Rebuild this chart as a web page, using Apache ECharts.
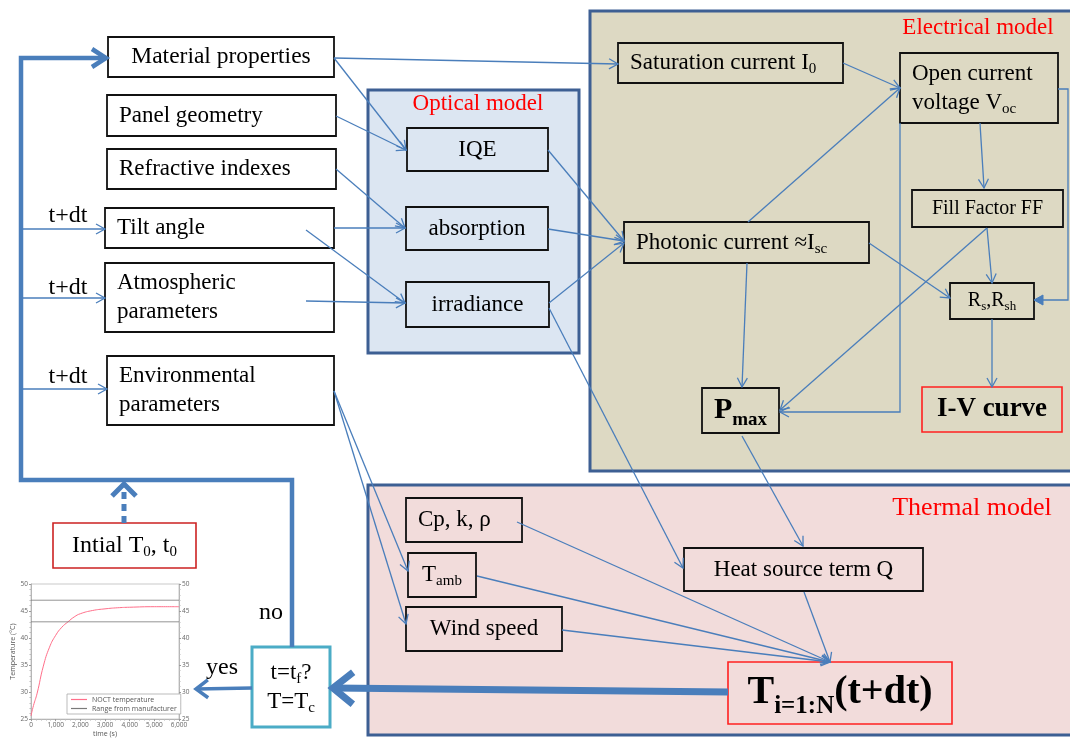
<!DOCTYPE html>
<html><head><meta charset="utf-8">
<script src="https://cdn.jsdelivr.net/npm/echarts@6/dist/echarts.min.js"></script>
<style>html,body{margin:0;padding:0;background:#fff}#c{width:1070px;height:738px}</style>
</head><body><div id="c"></div>
<script>
// ---------------- data ----------------
const panelTitles = ['Electrical model', 'Optical model', 'Thermal model'];
const panelBoxes = [[590, 11, 495, 460], [368, 90, 211, 263], [368, 485, 717, 250]];
const panelTitlePos = [[978, 28], [478, 104], [972, 508]];

const nodeLabels = [
  'Material properties', 'Panel geometry', 'Refractive indexes', 'Tilt angle',
  'Atmospheric\nparameters', 'Environmental\nparameters',
  'IQE', 'absorption', 'irradiance',
  'Saturation current I_{0}', 'Open current\nvoltage V_{oc}', 'Fill Factor FF',
  'Photonic current ≈I_{sc}', 'R_{s},R_{sh}', 'P_{max}', 'I-V curve',
  'Cp, k, ρ', 'T_{amb}', 'Wind speed', 'Heat source term Q',
  'T_{i=1:N}(t+dt)', 'Intial T_{0}, t_{0}', 't=t_{f}?\nT=T_{c}'
];
const nodeBoxes = [
  [108, 37, 226, 40], [107, 95, 229, 41], [107, 149, 229, 40], [105, 208, 229, 40],
  [105, 263, 229, 69], [107, 356, 227, 69],
  [407, 128, 141, 43], [406, 207, 142, 43], [406, 282, 143, 45],
  [618, 43, 225, 40], [900, 53, 158, 70], [912, 190, 151, 37],
  [624, 222, 245, 41], [950, 283, 84, 36], [702, 388, 77, 45], [922, 387, 140, 45],
  [406, 498, 116, 44], [408, 553, 68, 44], [406, 607, 156, 44], [684, 548, 239, 43],
  [728, 662, 224, 62], [53, 523, 143, 45], [252, 647, 78, 80]
];

const freeLabels = ['t+dt', 't+dt', 't+dt', 'no', 'yes'];
const freeLabelPos = [[68, 216], [68, 288], [68, 377], [271, 613], [222, 668]];

const edgePaths = [
  [[334, 58], [618, 64]],
  [[334, 58], [406, 150]],
  [[336, 116], [406, 150]],
  [[336, 169], [405, 228]],
  [[334, 228], [405, 228]],
  [[306, 230], [405, 303]],
  [[306, 301], [405, 303]],
  [[548, 150], [624, 241]],
  [[548, 229], [624, 241]],
  [[549, 303], [624, 243]],
  [[549, 308], [683, 568]],
  [[748, 222], [900, 88]],
  [[843, 63], [900, 88]],
  [[980, 123], [984, 188]],
  [[1058, 89], [1068, 89], [1068, 300], [1034, 300]],
  [[900, 123], [900, 412], [780, 412]],
  [[987, 228], [780, 410]],
  [[987, 228], [992, 283]],
  [[869, 243], [950, 298]],
  [[747, 263], [742, 387]],
  [[992, 319], [992, 387]],
  [[742, 436], [803, 546]],
  [[334, 391], [408, 571]],
  [[334, 391], [406, 624]],
  [[517, 522], [830, 662]],
  [[477, 576], [830, 662]],
  [[562, 630], [830, 662]],
  [[804, 592], [830, 662]],
  [[21, 229], [105, 229]],
  [[21, 298], [105, 298]],
  [[21, 389], [107, 389]],
  [[292, 647], [292, 480], [21, 480], [21, 58], [106, 58]],
  [[728, 692], [333, 688]],
  [[252, 688], [196, 689]],
  [[124, 523], [124, 484]]
];
const edgeKinds = [
  'thin','thin','thin','thin','thin','thin','thin','thin','thin','thin','thin','thin','thin','thin',
  'filled','thin','thin','thin','thin','thin','thin','thin','thin','thin','thin','thin','thin','thin',
  'thin','thin','thin','loop','big','yes','dash'
];

// inset chart (NOCT temperature vs time)
const insetTimes = [0, 100, 250, 500, 750, 1000, 1250, 1500, 1750, 2000, 2500, 3000, 3500, 4000, 5000, 6000];
const insetTemps = [25.6, 27.5, 29.8, 34.8, 38.3, 40.5, 42.0, 43.0, 43.9, 44.5, 45.1, 45.4, 45.6, 45.7, 45.8, 45.8];
const rangeUpper = 47;
const rangeLower = 43;
const insetXTicks = [0, 1000, 2000, 3000, 4000, 5000, 6000];

// ---------------- styles ----------------
const FONT = '"Liberation Serif","Times New Roman",serif';
const BLUE = '#4a7ebb';
const panelFills = ['#ddd9c3', '#dce6f2', '#f2dcdb'];
const panelTitleSize = [23, 23, 26];
const nodeAlign = ['center','left','left','left','left','left','center','center','center','left','left','center','left','center','center','center','left','center','center','center','center','center','center'];
const nodeFontSize = [23.5,23,23,23,23,23,23,23,23,23,23,20,23,20,30,27,23,23,23,23,40,24,23];
const nodeBold = [0,0,0,0,0,0,0,0,0,0,0,0,0,0,1,1,0,0,0,0,1,0,0];
const nodeStroke = ['#111','#111','#111','#111','#111','#111','#111','#111','#111','#111','#111','#111','#111','#111','#111','#ff2020','#111','#111','#111','#111','#ff2020','#cc2222','#4bacc6'];
const nodeStrokeW = [1.8,1.8,1.8,1.8,1.8,1.8,1.8,1.8,1.8,1.8,1.8,1.8,1.8,1.8,1.8,1.6,1.8,1.8,1.8,1.8,1.6,1.6,3];

const mctx = document.createElement('canvas').getContext('2d');
function fontStr(size, bold) { return (bold ? 'bold ' : '') + size + 'px ' + FONT; }
function measure(t, size, bold) { mctx.font = fontStr(size, bold); return mctx.measureText(t).width; }
function parseLine(line) {
  const segs = []; const re = /_\{([^}]*)\}/g; let last = 0, m;
  while ((m = re.exec(line))) {
    if (m.index > last) segs.push({ t: line.slice(last, m.index), sub: false });
    segs.push({ t: m[1], sub: true }); last = re.lastIndex;
  }
  if (last < line.length) segs.push({ t: line.slice(last), sub: false });
  return segs;
}
function textEls(label, ax, cy, o) {
  const lines = label.split('\n'); const n = lines.length; const lh = o.lh || 29;
  const els = [];
  const ssz = Math.round(o.size * (o.subScale || 0.64));
  lines.forEach((line, i) => {
    const segs = parseLine(line);
    let w = 0; segs.forEach(s => { s.w = measure(s.t, s.sub ? ssz : o.size, o.bold); w += s.w; });
    let x = o.align === 'center' ? ax - w / 2 : ax;
    const y = cy + (i - (n - 1) / 2) * lh;
    segs.forEach(s => {
      els.push({ type: 'text', x: x, y: s.sub ? y + o.size * (o.subOff || 0.28) : y,
        style: { text: s.t, font: fontStr(s.sub ? ssz : o.size, o.bold), fill: o.color || '#000', align: 'left', verticalAlign: 'middle' } });
      x += s.w;
    });
  });
  return els;
}
function arrowHead(p1, p2, L, W) {
  const dx = p2[0] - p1[0], dy = p2[1] - p1[1]; const len = Math.hypot(dx, dy) || 1;
  const ux = dx / len, uy = dy / len, nx = -uy, ny = ux;
  return [[p2[0] - ux * L + nx * W, p2[1] - uy * L + ny * W], p2, [p2[0] - ux * L - nx * W, p2[1] - uy * L - ny * W]];
}
const kindStyle = {
  thin: { lw: 1.3, L: 9, W: 5 },
  filled: { lw: 1.3, L: 9, W: 5, fill: true },
  loop: { lw: 4.5, L: 14, W: 9 },
  big: { lw: 7, L: 20, W: 16 },
  yes: { lw: 3.5, L: 12, W: 9 },
  dash: { lw: 5, L: 12, W: 12, dash: [7, 5] }
};

const chart = echarts.init(document.getElementById('c'), null, { renderer: 'canvas' });

const option = {
  animation: false,
  backgroundColor: '#ffffff',
  grid: [
    { left: 0, right: 0, top: 0, bottom: 0 },
    { left: 31, top: 584, width: 148, height: 137, show: true, borderColor: '#bbb', borderWidth: 0.8 }
  ],
  xAxis: [
    { type: 'value', gridIndex: 0, min: 0, max: 1070, show: false },
    { type: 'value', gridIndex: 1, min: 0, max: 6000, interval: 1000,
      name: 'time (s)', nameLocation: 'middle', nameGap: 10,
      nameTextStyle: { fontSize: 7, color: '#555', fontFamily: 'Open Sans' },
      axisLine: { lineStyle: { color: '#aaa', width: 0.8 } },
      axisTick: { length: 2, lineStyle: { color: '#999' } },
      minorTick: { show: true, splitNumber: 5, length: 1.5, lineStyle: { color: '#bbb' } },
      axisLabel: { fontSize: 6.5, color: '#666', margin: 3, fontFamily: 'Open Sans',
        customValues: insetXTicks, formatter: v => v.toLocaleString('en-US') },
      splitLine: { show: false } }
  ],
  yAxis: [
    { type: 'value', gridIndex: 0, min: 0, max: 738, inverse: true, show: false },
    { type: 'value', gridIndex: 1, min: 25, max: 50, interval: 5,
      name: 'Temperature (°C)', nameLocation: 'middle', nameGap: 14,
      nameTextStyle: { fontSize: 7, color: '#555', fontFamily: 'Open Sans' },
      axisLine: { show: true, lineStyle: { color: '#aaa', width: 0.8 } },
      axisTick: { show: true, length: 2, lineStyle: { color: '#999' } },
      minorTick: { show: true, splitNumber: 5, length: 1.5, lineStyle: { color: '#bbb' } },
      axisLabel: { fontSize: 6.5, color: '#666', margin: 3, fontFamily: 'Open Sans' },
      splitLine: { show: false } },
    { type: 'value', gridIndex: 1, position: 'right', min: 25, max: 50, interval: 5,
      axisLine: { show: true, lineStyle: { color: '#aaa', width: 0.8 } },
      axisTick: { show: true, length: 2, lineStyle: { color: '#999' } },
      minorTick: { show: true, splitNumber: 5, length: 1.5, lineStyle: { color: '#bbb' } },
      axisLabel: { fontSize: 6.5, color: '#666', margin: 3, fontFamily: 'Open Sans' },
      splitLine: { show: false } }
  ],
  legend: {
    data: ['NOCT temperature', 'Range from manufacturer'],
    left: 67, top: 694, orient: 'vertical', itemGap: 2, padding: [2, 4],
    borderColor: '#aaa', borderWidth: 0.8, itemWidth: 16, itemHeight: 1.2, icon: 'rect',
    textStyle: { fontSize: 7, color: '#555', fontFamily: 'Open Sans' },
    backgroundColor: '#fff', selectedMode: false
  },
  series: [
    {
      type: 'custom', name: 'panels', xAxisIndex: 0, yAxisIndex: 0, silent: true, z: 1,
      data: panelBoxes.map(b => [b[0], b[1]]),
      renderItem: (params, api) => {
        const i = params.dataIndex; const b = panelBoxes[i];
        const p = api.coord([b[0], b[1]]); const s = api.size([b[2], b[3]]);
        const tp = api.coord(panelTitlePos[i]);
        return { type: 'group', children: [
          { type: 'rect', shape: { x: p[0], y: p[1], width: s[0], height: s[1] },
            style: { fill: panelFills[i], stroke: '#3d5f93', lineWidth: 3 } }
        ].concat(textEls(panelTitles[i], tp[0], tp[1], { size: panelTitleSize[i], align: 'center', color: '#ff0000' })) };
      }
    },
    {
      type: 'custom', name: 'nodes', xAxisIndex: 0, yAxisIndex: 0, silent: true, z: 3,
      data: nodeBoxes.map(b => [b[0], b[1]]),
      renderItem: (params, api) => {
        const i = params.dataIndex; const b = nodeBoxes[i];
        const p = api.coord([b[0], b[1]]); const s = api.size([b[2], b[3]]);
        const cy = p[1] + s[1] / 2;
        const ax = nodeAlign[i] === 'center' ? p[0] + s[0] / 2 : p[0] + 12;
        return { type: 'group', children: [
          { type: 'rect', shape: { x: p[0], y: p[1], width: s[0], height: s[1] },
            style: { fill: 'none', stroke: nodeStroke[i], lineWidth: nodeStrokeW[i] } }
        ].concat(textEls(nodeLabels[i], ax, cy, { size: nodeFontSize[i], bold: !!nodeBold[i], align: nodeAlign[i],
          subOff: nodeBold[i] ? 0.33 : 0.28, subScale: nodeBold[i] ? 0.62 : 0.64 })) };
      }
    },
    {
      type: 'custom', name: 'edges', xAxisIndex: 0, yAxisIndex: 0, silent: true, z: 4,
      data: edgePaths.map(pth => pth[0]),
      renderItem: (params, api) => {
        const i = params.dataIndex; const pts = edgePaths[i].map(q => api.coord(q));
        const k = kindStyle[edgeKinds[i]];
        const head = arrowHead(pts[pts.length - 2], pts[pts.length - 1], k.L, k.W);
        const children = [
          { type: 'polyline', shape: { points: pts },
            style: { stroke: BLUE, lineWidth: k.lw, fill: 'none', lineDash: k.dash || null, lineJoin: 'miter' } }
        ];
        if (k.fill) {
          children.push({ type: 'polygon', shape: { points: head }, style: { fill: BLUE, stroke: BLUE, lineWidth: 1 } });
        } else {
          children.push({ type: 'polyline', shape: { points: head },
            style: { stroke: BLUE, lineWidth: k.lw, fill: 'none', lineJoin: 'miter', lineCap: 'butt' } });
        }
        return { type: 'group', children: children };
      }
    },
    {
      type: 'custom', name: 'freeLabels', xAxisIndex: 0, yAxisIndex: 0, silent: true, z: 5,
      data: freeLabelPos.map(q => q),
      renderItem: (params, api) => {
        const i = params.dataIndex; const p = api.coord(freeLabelPos[i]);
        return { type: 'group', children: textEls(freeLabels[i], p[0], p[1], { size: 24, align: 'center' }) };
      }
    },
    {
      type: 'line', name: 'NOCT temperature', xAxisIndex: 1, yAxisIndex: 1, silent: true,
      data: insetTimes.map((t, i) => [t, insetTemps[i]]), smooth: true, symbol: 'none',
      lineStyle: { color: '#ff6f8a', width: 1 }, itemStyle: { color: '#ff6f8a' }
    },
    {
      type: 'line', name: 'Range from manufacturer', xAxisIndex: 1, yAxisIndex: 1, silent: true,
      data: [[0, rangeUpper], [6000, rangeUpper]], symbol: 'none',
      lineStyle: { color: '#7a7a7a', width: 0.8 }, itemStyle: { color: '#7a7a7a' }
    },
    {
      type: 'line', name: 'Range from manufacturer', xAxisIndex: 1, yAxisIndex: 1, silent: true,
      data: [[0, rangeLower], [6000, rangeLower]], symbol: 'none',
      lineStyle: { color: '#7a7a7a', width: 0.8 }, itemStyle: { color: '#7a7a7a' }
    }
  ]
};
chart.setOption(option);
</script>
</body></html>
